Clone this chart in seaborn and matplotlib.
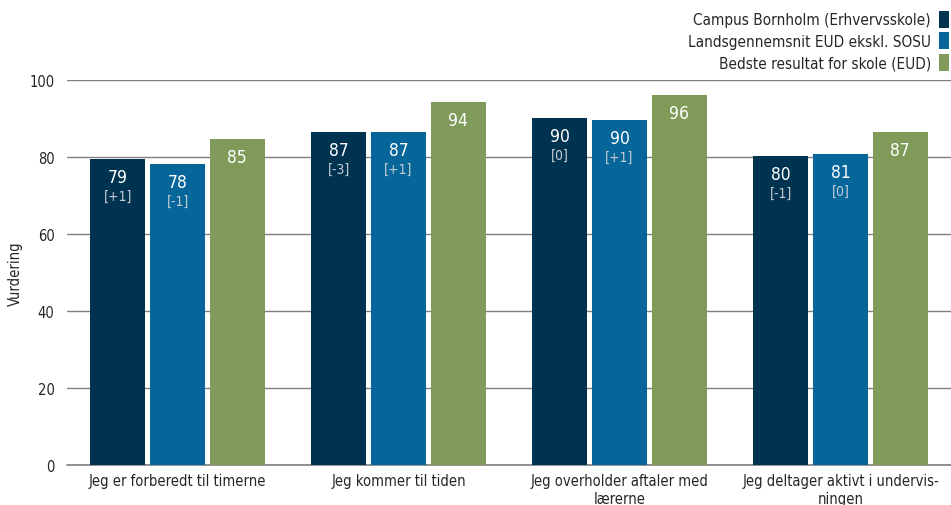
import matplotlib
matplotlib.use("Agg")
import matplotlib.pyplot as plt
import seaborn as sns
import pandas as pd

# Data
categories = ["Jeg er forberedt til timerne", "Jeg kommer til tiden",
              "Jeg overholder aftaler med\nlærerne", "Jeg deltager aktivt i undervis-\nningen"]
series = ["Campus Bornholm (Erhvervsskole)", "Landsgennemsnit EUD ekskl. SOSU",
          "Bedste resultat for skole (EUD)"]
campus = [79.4, 86.6, 90.2, 80.3]
lands = [78.2, 86.6, 89.7, 80.7]
bedste = [84.7, 94.3, 96.0, 86.6]
campus_diff = ["[+1]", "[-3]", "[0]", "[-1]"]
lands_diff = ["[-1]", "[+1]", "[+1]", "[0]"]
yticks = [0, 20, 40, 60, 80, 100]

colors = ["#003350", "#076699", "#7f9a59"]

df = pd.DataFrame({
    "kategori": categories * 3,
    "serie": [series[0]] * 4 + [series[1]] * 4 + [series[2]] * 4,
    "vurdering": campus + lands + bedste,
})

sns.set_style("white")
plt.rcParams['font.family'] = ['DejaVu Sans']
plt.rcParams['font.stretch'] = 'condensed'

fig = plt.figure(figsize=(9.51, 5.06), dpi=100)
ax = fig.add_axes([0.0705, 0.079, 0.9295, 0.761])

sns.barplot(data=df, x="kategori", y="vurdering", hue="serie", palette=colors,
            width=0.81, gap=0.08, saturation=1, linewidth=0, ax=ax, legend=True)

ax.set_ylim(0, 100)
ax.set_xlim(-0.5, 3.5)
ax.set_yticks(yticks)
ax.grid(axis="y", color="#7f7f7f", linewidth=1)
ax.axhline(0, color="#7f7f7f", linewidth=1.2, clip_on=False, zorder=0.5)
ax.set_axisbelow(True)
for s in ax.spines.values():
    s.set_visible(False)
ax.tick_params(axis="both", length=0, labelsize=10.5)
ax.tick_params(axis="y", pad=9)
ax.tick_params(axis="x", pad=6)
ax.set_xlabel("")
ax.set_ylabel("Vurdering", fontsize=10.5, labelpad=5)

# value labels
diffs = [campus_diff, lands_diff, None]
for cont, d in zip(ax.containers, diffs):
    for i, bar in enumerate(cont):
        x = bar.get_x() + bar.get_width() / 2
        h = bar.get_height()
        ax.annotate(f"{round(h)}", (x, h), xytext=(0, -18), textcoords="offset pixels",
                    ha="center", va="center", color="white", fontsize=12.5)
        if d is not None:
            ax.annotate(d[i], (x, h), xytext=(0, -37), textcoords="offset pixels",
                        ha="center", va="center", color="#c5cdd6", fontsize=10)

leg = ax.legend(loc="upper right", bbox_to_anchor=(1.007, 0.993), bbox_transform=fig.transFigure,
                frameon=False, markerfirst=False, fontsize=11, handlelength=0.65,
                handleheight=1.3, labelspacing=0.32, handletextpad=0.55, borderaxespad=0.3,
                borderpad=0.25)
for t in leg.get_texts():
    t.set_ha("right")

fig.savefig("out.png", dpi=100)
